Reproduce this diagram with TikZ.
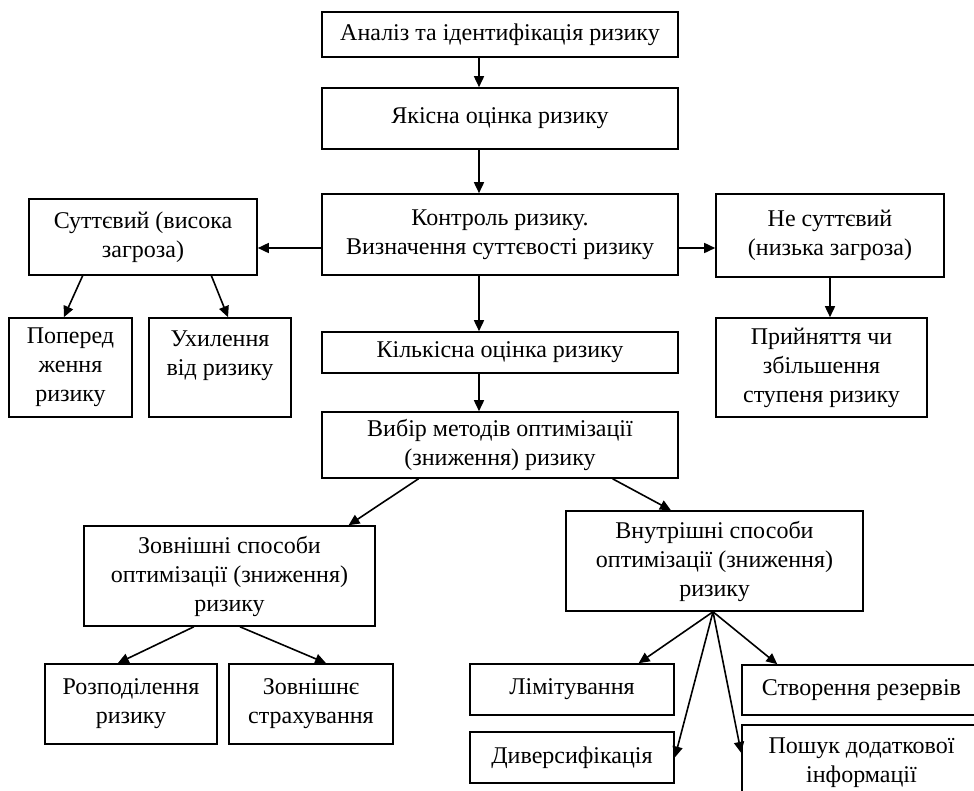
\documentclass[tikz,border=0pt]{standalone}
\usepackage{fontspec}
\setmainfont{Liberation Serif}
\usepackage{tikz}
\usetikzlibrary{calc}
\usetikzlibrary{positioning}
\usetikzlibrary{arrows.meta}
\tikzset{
tovshchyna/.style={line width=1.6pt},
blok/.style 2 args={
	draw, rectangle, tovshchyna,
	minimum width=#1, minimum height=#2,
	inner sep=2pt, align=center,
	font=\fontsize{24pt}{29pt}\selectfont
},
strilka/.style={
	-{Triangle[length=11pt,width=10pt]}, tovshchyna
},
}
\begin{document}
\begin{tikzpicture}[x=1pt, y=-1pt]
\useasboundingbox (0,0) rectangle (974,790);
\clip (0,0) rectangle (974,790);
%Place the nodes
\node[blok={356pt}{45pt}] (analiz) at (500,34.5) {Аналіз та ідентифікація ризику};
\node[blok={356pt}{61pt}] (yakisna) at (500,118.5) {Якісна оцінка ризику};
\node[blok={356pt}{81pt}] (kontrol) at (500,234.5) {Контроль ризику.\\ Визначення суттєвості ризику};
\node[blok={228pt}{76pt}] (suttyevyi) at (143,237) {Суттєвий (висока\\ загроза)};
\node[blok={228pt}{83pt}] (nesuttyevyi) at (830,235.5) {Не суттєвий\\ (низька загроза)};

\node[blok={123pt}{99pt}] (poperedzh) at (70.5,367.5) {Поперед\\ ження\\ ризику};
\node[blok={142pt}{99pt}] (ukhylennia) at (220,367.5) {Ухилення\\ від ризику\\ ~};
\node[blok={356pt}{41pt}] (kilkisna) at (500,352.5) {Кількісна оцінка ризику};
\node[blok={211pt}{99pt}] (pryiniattia) at (821.5,367.5) {Прийняття чи\\ збільшення\\ ступеня ризику};

\node[blok={356pt}{66pt}] (vybir) at (500,445) {Вибір методів оптимізації\\ (зниження) ризику};
\node[blok={291pt}{100pt}] (zovnishni) at (229.5,576) {Зовнішні способи\\ оптимізації (зниження)\\ ризику};
\node[blok={297pt}{100pt}] (vnutrishni) at (714.5,561) {Внутрішні способи\\ оптимізації (зниження)\\ ризику};

\node[blok={172pt}{80pt}] (rozpodil) at (131,704) {Розподілення\\ ризику};
\node[blok={164pt}{80pt}] (strakhuv) at (311,704) {Зовнішнє\\ страхування};
\node[blok={204pt}{51pt}] (limituv) at (572,689.5) {Лімітування};
\node[blok={204pt}{51pt}] (dyversyf) at (572,757.5) {Диверсифікація};
\node[blok={239pt}{50pt}] (stvorennia) at (861.5,690) {Створення резервів};
\node[blok={239pt}{76pt}] (poshuk) at (861.5,763) {Пошук додаткової\\ інформації};

\coordinate (vis) at (479,0);
\coordinate (rivenj) at (0,248);

%
\draw[strilka] (analiz.south -| vis) to (yakisna.north -| vis);
\draw[strilka] (yakisna.south -| vis) to (kontrol.north -| vis);
\draw[strilka] (kontrol.south -| vis) to (kilkisna.north -| vis);
\draw[strilka] (kilkisna.south -| vis) to (vybir.north -| vis);

%
\draw[strilka] (kontrol.west |- rivenj) to (suttyevyi.east |- rivenj);
\draw[strilka] (kontrol.east |- rivenj) to (nesuttyevyi.west |- rivenj);
\draw[strilka] (nesuttyevyi.south) to (nesuttyevyi.south |- pryiniattia.north);

%
\draw[strilka] ($(suttyevyi.south west)!0.237!(suttyevyi.south east)$) to ($(poperedzh.north west)!0.447!(poperedzh.north east)$);
\draw[strilka] ($(suttyevyi.south west)!0.798!(suttyevyi.south east)$) to ($(ukhylennia.north west)!0.556!(ukhylennia.north east)$);

%
\draw[strilka] ($(vybir.south west)!0.272!(vybir.south east)$) to ($(zovnishni.north west)!0.907!(zovnishni.north east)$);
\draw[strilka] ($(vybir.south west)!0.815!(vybir.south east)$) to ($(vnutrishni.north west)!0.354!(vnutrishni.north east)$);

%
\draw[strilka] ($(zovnishni.south west)!0.378!(zovnishni.south east)$) to ($(rozpodil.north west)!0.424!(rozpodil.north east)$);
\draw[strilka] ($(zovnishni.south west)!0.536!(zovnishni.south east)$) to ($(strakhuv.north west)!0.591!(strakhuv.north east)$);

%
\coordinate (vuzol) at ($(vnutrishni.south west)!0.495!(vnutrishni.south east)$);
\draw[strilka] (vuzol) to ($(limituv.north west)!0.824!(limituv.north east)$);
\draw[strilka] (vuzol) to (dyversyf.east);
\draw[strilka] (vuzol) to ($(poshuk.north west)!0.37!(poshuk.south west)$);
\draw[strilka] (vuzol) to ($(stvorennia.north west)!0.15!(stvorennia.north east)$);

\end{tikzpicture}
\end{document}
